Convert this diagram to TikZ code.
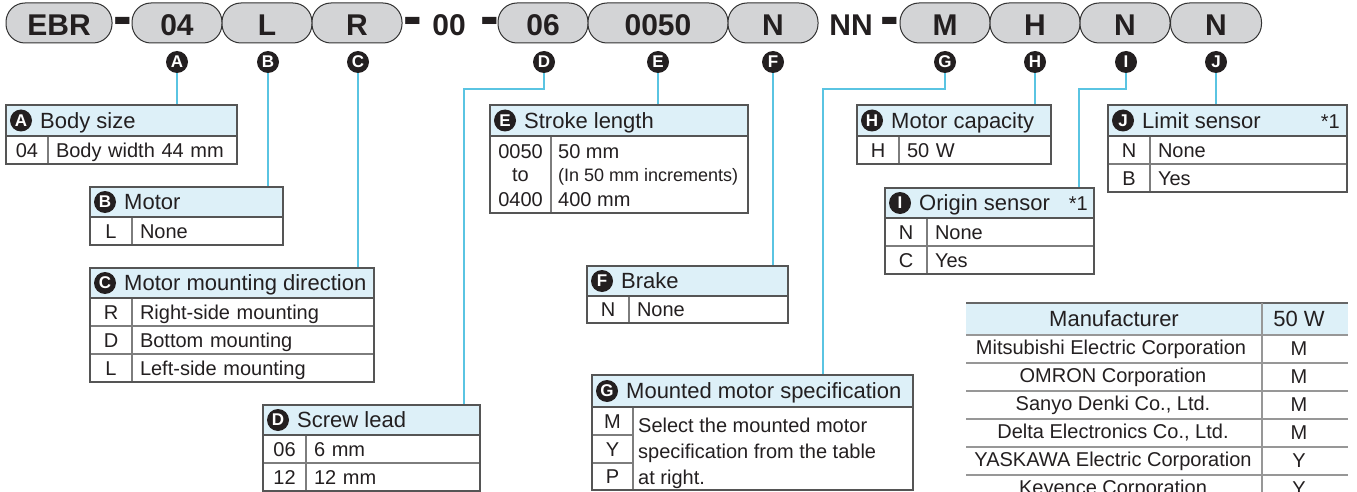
\documentclass[tikz,border=0pt]{standalone}
\usepackage{fontspec}
\setmainfont{Liberation Sans}
\usepackage{graphicx}
\definecolor{pillfill}{RGB}{211,212,214}
\definecolor{pillline}{RGB}{50,50,50}
\definecolor{hdrfill}{RGB}{221,240,248}
\definecolor{boxline}{RGB}{85,85,85}
\definecolor{cellline}{RGB}{125,125,125}
\definecolor{conncol}{RGB}{90,196,226}
\definecolor{ink}{RGB}{35,31,32}
\newcommand\fsz[1]{\fontsize{#1}{#1}\selectfont}
\begin{document}
\begin{tikzpicture}[x=1pt,y=-1pt,
 pill/.style={draw=pillline, line width=1pt, fill=pillfill, rounded corners=19pt, minimum height=40pt, inner sep=0pt, outer sep=0pt, text=ink, font=\fsz{30}\bfseries, text height=25pt, text depth=0pt},
 septxt/.style={inner sep=0pt, outer sep=0pt, text=ink, font=\fsz{30}\bfseries, text height=25pt, text depth=0pt, minimum height=40pt},
 dashmark/.style={inner sep=0pt, outer sep=0pt, text=ink, font=\fsz{40}\bfseries},
 badge/.style={circle, fill=ink, text=white, minimum size=22pt, inner sep=0pt, outer sep=0pt, font=\fsz{17}\bfseries},
 hdr/.style={draw=boxline, line width=1.3pt, fill=hdrfill, anchor=north west, inner sep=0pt, outer sep=0pt},
 htitle/.style={anchor=west, inner sep=0pt, text=ink, font=\fsz{22}, text height=15.8pt, text depth=0pt},
 star/.style={anchor=east, inner sep=0pt, text=ink, font=\fsz{20}, text height=15.8pt, text depth=0pt},
 cell/.style={draw=cellline, line width=1.2pt, fill=white, anchor=north west, inner sep=0pt, outer sep=0pt, text=ink, font=\fsz{20}, text height=14.4pt, text depth=0pt},
 vcell/.style={cell, inner xsep=8pt, align=left},
 outer/.style={draw=boxline, line width=1.5pt},
 conn/.style={draw=conncol, line width=1.5pt},
 ftext/.style={inner sep=0pt, text=ink, font=\fsz{20}},
 mline/.style={draw=cellline!80, line width=1.2pt},
]
\path[use as bounding box] (0,0) rectangle (1357,492);
\clip (0,0) rectangle (1357,492);
\fill[white] (0,0) rectangle (1357,492);

% ---------- model code ----------
\node[pill, minimum width=106pt] (pEBR) at (59,23) {EBR};
\node[dashmark] (m1) at (123,27) {\scalebox{1.4}[1.5]{-}};
\node[pill, minimum width=90pt] (pA) at (177,23) {04};
\node[pill, minimum width=90pt] (pB) at (267,23) {L};
\node[pill, minimum width=90pt] (pC) at (357,23) {R};
\node[dashmark] (m2) at (413,27) {\scalebox{1.4}[1.5]{-}};
\node[septxt] (s00) at (449,23) {00};
\node[dashmark] (m3) at (490,27) {\scalebox{1.4}[1.5]{-}};
\node[pill, minimum width=90pt] (pD) at (543,23) {06};
\node[pill, minimum width=140pt] (pE) at (658,23) {0050};
\node[pill, minimum width=90pt] (pF) at (773,23) {N};
\node[septxt] (sNN) at (851,23) {NN};
\node[dashmark] (m4) at (890,27) {\scalebox{1.4}[1.5]{-}};
\node[pill, minimum width=90pt] (pG) at (945,23) {M};
\node[pill, minimum width=90pt] (pH) at (1035,23) {H};
\node[pill, minimum width=90pt] (pI) at (1125,23) {N};
\node[pill, minimum width=91pt] (pJ) at (1216,23) {N};

% ---------- badges ----------
\node[badge] (bA) at (177,62) {A};
\node[badge] (bB) at (268,62) {B};
\node[badge] (bC) at (358,62) {C};
\node[badge] (bD) at (544,62) {D};
\node[badge] (bE) at (658,62) {E};
\node[badge] (bF) at (773,62) {F};
\node[badge] (bG) at (945,62) {G};
\node[badge] (bH) at (1035,62) {H};
\node[badge] (bI) at (1126,62) {I};
\node[badge] (bJ) at (1216,62) {J};

% ---------- headers ----------
\node[hdr, minimum width=231pt, minimum height=31pt] (hA) at (6,105) {};
\node[hdr, minimum width=193pt, minimum height=30pt] (hB) at (90,187) {};
\node[hdr, minimum width=284pt, minimum height=30pt] (hC) at (90,268) {};
\node[hdr, minimum width=217pt, minimum height=30pt] (hD) at (263,405) {};
\node[hdr, minimum width=258pt, minimum height=31pt] (hE) at (490,105) {};
\node[hdr, minimum width=201pt, minimum height=30pt] (hF) at (587,266) {};
\node[hdr, minimum width=321pt, minimum height=32pt] (hG) at (592,375) {};
\node[hdr, minimum width=194pt, minimum height=31pt] (hH) at (857,105) {};
\node[hdr, minimum width=209pt, minimum height=30pt] (hI) at (885,188) {};
\node[hdr, minimum width=239pt, minimum height=31pt] (hJ) at (1108,105) {};

% ---------- connectors ----------
\coordinate (dD) at (464,89);
\coordinate (dG) at (823,89);
\coordinate (dI) at (1079,89);
\draw[conn] (bA) -- (bA |- hA.north);
\draw[conn] (bB) -- (bB |- hB.north);
\draw[conn] (bC) -- (bC |- hC.north);
\draw[conn] (bD) |- (dD) -- (dD |- hD.north);
\draw[conn] (bE) -- (bE |- hE.north);
\draw[conn] (bF) -- (bF |- hF.north);
\draw[conn] (bG) |- (dG) -- (dG |- hG.north);
\draw[conn] (bH) -- (bH |- hH.north);
\draw[conn] (bI) |- (dI) -- (dI |- hI.north);
\draw[conn] (bJ) -- (bJ |- hJ.north);

% ---------- A Body size ----------
\node[badge] (iA) at ([xshift=15pt]hA.west) {A};
\node[htitle] (tA) at ([xshift=34pt]hA.west) {Body size};
\node[cell, minimum width=42pt, minimum height=28pt] (kA1) at (hA.south west) {04};
\node[vcell, minimum width=189pt, text width=173pt, minimum height=28pt] (vA1) at (kA1.north east) {Body width 44 mm};
\draw[outer] (hA.north west) rectangle (vA1.south east);
\draw[outer] (hA.south west) -- (hA.south east);

% ---------- B Motor ----------
\node[badge] (iB) at ([xshift=15pt]hB.west) {B};
\node[htitle] (tB) at ([xshift=34pt]hB.west) {Motor};
\node[cell, minimum width=42pt, minimum height=28pt] (kB1) at (hB.south west) {L};
\node[vcell, minimum width=151pt, text width=135pt, minimum height=28pt] (vB1) at (kB1.north east) {None};
\draw[outer] (hB.north west) rectangle (vB1.south east);
\draw[outer] (hB.south west) -- (hB.south east);

% ---------- C Motor mounting direction ----------
\node[badge] (iC) at ([xshift=15pt]hC.west) {C};
\node[htitle] (tC) at ([xshift=34pt]hC.west) {Motor mounting direction};
\node[cell, minimum width=42pt, minimum height=28pt] (kC1) at (hC.south west) {R};
\node[vcell, minimum width=242pt, text width=226pt, minimum height=28pt] (vC1) at (kC1.north east) {Right-side mounting};
\node[cell, minimum width=42pt, minimum height=28pt] (kC2) at (kC1.south west) {D};
\node[vcell, minimum width=242pt, text width=226pt, minimum height=28pt] (vC2) at (kC2.north east) {Bottom mounting};
\node[cell, minimum width=42pt, minimum height=28pt] (kC3) at (kC2.south west) {L};
\node[vcell, minimum width=242pt, text width=226pt, minimum height=28pt] (vC3) at (kC3.north east) {Left-side mounting};
\draw[outer] (hC.north west) rectangle (vC3.south east);
\draw[outer] (hC.south west) -- (hC.south east);

% ---------- D Screw lead ----------
\node[badge] (iD) at ([xshift=15pt]hD.west) {D};
\node[htitle] (tD) at ([xshift=34pt]hD.west) {Screw lead};
\node[cell, minimum width=43pt, minimum height=28pt] (kD1) at (hD.south west) {06};
\node[vcell, minimum width=174pt, text width=158pt, minimum height=28pt] (vD1) at (kD1.north east) {6 mm};
\node[cell, minimum width=43pt, minimum height=28pt] (kD2) at (kD1.south west) {12};
\node[vcell, minimum width=174pt, text width=158pt, minimum height=28pt] (vD2) at (kD2.north east) {12 mm};
\draw[outer] (hD.north west) rectangle (vD2.south east);
\draw[outer] (hD.south west) -- (hD.south east);

% ---------- E Stroke length ----------
\node[badge] (iE) at ([xshift=15pt]hE.west) {E};
\node[htitle] (tE) at ([xshift=34pt]hE.west) {Stroke length};
\node[cell, minimum width=61pt, minimum height=77pt] (kE1) at (hE.south west) {};
\node[cell, minimum width=197pt, minimum height=77pt] (vE1) at (kE1.north east) {};
\node[ftext, anchor=base] at (520.5,158) {0050};
\node[ftext, anchor=base] at (520.5,181.5) {to};
\node[ftext, anchor=base] at (520.5,206) {0400};
\node[ftext, anchor=base west] at (558,158) {50 mm};
\node[ftext, anchor=base west, font=\fsz{18}] at (558,181.5) {(In 50 mm increments)};
\node[ftext, anchor=base west] at (558,206) {400 mm};
\draw[outer] (hE.north west) rectangle (vE1.south east);
\draw[outer] (hE.south west) -- (hE.south east);

% ---------- F Brake ----------
\node[badge] (iF) at ([xshift=15pt]hF.west) {F};
\node[htitle] (tF) at ([xshift=34pt]hF.west) {Brake};
\node[cell, minimum width=42pt, minimum height=27pt] (kF1) at (hF.south west) {N};
\node[vcell, minimum width=159pt, text width=143pt, minimum height=27pt] (vF1) at (kF1.north east) {None};
\draw[outer] (hF.north west) rectangle (vF1.south east);
\draw[outer] (hF.south west) -- (hF.south east);

% ---------- G Mounted motor specification ----------
\node[badge] (iG) at ([xshift=15pt]hG.west) {G};
\node[htitle] (tG) at ([xshift=34pt]hG.west) {Mounted motor specification};
\node[cell, minimum width=41pt, minimum height=28pt] (kG1) at (hG.south west) {M};
\node[cell, minimum width=41pt, minimum height=28pt] (kG2) at (kG1.south west) {Y};
\node[cell, minimum width=41pt, minimum height=27pt] (kG3) at (kG2.south west) {P};
\node[cell, minimum width=280pt, minimum height=83pt] (vG1) at (kG1.north east) {};
\node[ftext, anchor=base west] at (638,432) {Select the mounted motor};
\node[ftext, anchor=base west] at (638,458) {specification from the table};
\node[ftext, anchor=base west] at (638,484) {at right.};
\draw[outer] (hG.north west) rectangle (vG1.south east);
\draw[outer] (hG.south west) -- (hG.south east);

% ---------- H Motor capacity ----------
\node[badge] (iH) at ([xshift=15pt]hH.west) {H};
\node[htitle] (tH) at ([xshift=34pt]hH.west) {Motor capacity};
\node[cell, minimum width=42pt, minimum height=28pt] (kH1) at (hH.south west) {H};
\node[vcell, minimum width=152pt, text width=136pt, minimum height=28pt] (vH1) at (kH1.north east) {50 W};
\draw[outer] (hH.north west) rectangle (vH1.south east);
\draw[outer] (hH.south west) -- (hH.south east);

% ---------- I Origin sensor ----------
\node[badge] (iI) at ([xshift=15pt]hI.west) {I};
\node[htitle] (tI) at ([xshift=34pt]hI.west) {Origin sensor};
\node[star] (sI) at ([xshift=-6pt]hI.east) {*1};
\node[cell, minimum width=42pt, minimum height=28pt] (kI1) at (hI.south west) {N};
\node[vcell, minimum width=167pt, text width=151pt, minimum height=28pt] (vI1) at (kI1.north east) {None};
\node[cell, minimum width=42pt, minimum height=28pt] (kI2) at (kI1.south west) {C};
\node[vcell, minimum width=167pt, text width=151pt, minimum height=28pt] (vI2) at (kI2.north east) {Yes};
\draw[outer] (hI.north west) rectangle (vI2.south east);
\draw[outer] (hI.south west) -- (hI.south east);

% ---------- J Limit sensor ----------
\node[badge] (iJ) at ([xshift=15pt]hJ.west) {J};
\node[htitle] (tJ) at ([xshift=34pt]hJ.west) {Limit sensor};
\node[star] (sJ) at ([xshift=-7pt]hJ.east) {*1};
\node[cell, minimum width=42pt, minimum height=28pt] (kJ1) at (hJ.south west) {N};
\node[vcell, minimum width=197pt, text width=181pt, minimum height=28pt] (vJ1) at (kJ1.north east) {None};
\node[cell, minimum width=42pt, minimum height=28pt] (kJ2) at (kJ1.south west) {B};
\node[vcell, minimum width=197pt, text width=181pt, minimum height=28pt] (vJ2) at (kJ2.north east) {Yes};
\draw[outer] (hJ.north west) rectangle (vJ2.south east);
\draw[outer] (hJ.south west) -- (hJ.south east);

% ---------- Manufacturer table ----------
\node[fill=hdrfill, anchor=north west, inner sep=0pt, outer sep=0pt, minimum width=382pt, minimum height=32pt] (mh) at (966,303) {};
\coordinate (mdiv) at (1262,303);
\coordinate (mbot) at (1262,500);
\node[ftext, font=\fsz{22}] (mt1) at (1114,319) {Manufacturer};
\node[ftext, font=\fsz{22}] (mt2) at (1299,319) {50 W};
\node[ftext] (r1a) at (1111,349) {Mitsubishi Electric Corporation};
\node[ftext] (r1b) at (1299,349) {M};
\node[ftext] (r2a) at (1113,377) {OMRON Corporation};
\node[ftext] (r2b) at (1299,377) {M};
\node[ftext] (r3a) at (1113,405) {Sanyo Denki Co., Ltd.};
\node[ftext] (r3b) at (1299,405) {M};
\node[ftext] (r4a) at (1113,433) {Delta Electronics Co., Ltd.};
\node[ftext] (r4b) at (1299,433) {M};
\node[ftext] (r5a) at (1113,461) {YASKAWA Electric Corporation};
\node[ftext] (r5b) at (1299,461) {Y};
\node[ftext] (r6a) at (1113,489) {Keyence Corporation};
\node[ftext] (r6b) at (1299,489) {Y};
\draw[outer, draw=boxline!90] (mh.north west) -- (mh.north east);
\draw[mline] (mh.south west) -- (mh.south east);
\draw[mline] (966,363) -- (1348,363);
\draw[mline] (966,391) -- (1348,391);
\draw[mline] (966,419) -- (1348,419);
\draw[mline] (966,447) -- (1348,447);
\draw[mline] (966,475) -- (1348,475);
\draw[mline] (mdiv) -- (mbot);
\end{tikzpicture}
\end{document}
